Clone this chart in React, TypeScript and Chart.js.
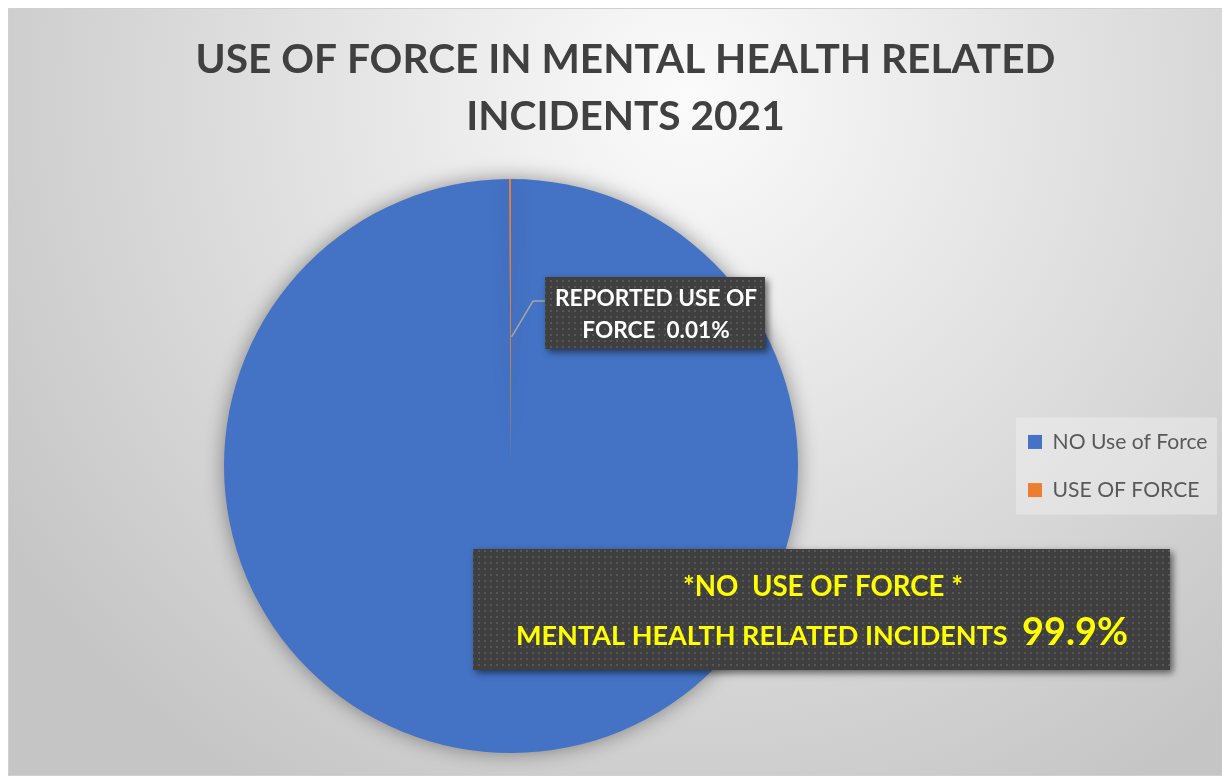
import React, { useEffect, useRef } from 'react';
import { Chart, registerables } from 'chart.js';

Chart.register(...registerables);

// ---- data ----
const TITLE_LINES = ['USE OF FORCE IN MENTAL HEALTH RELATED', 'INCIDENTS 2021'];
const CATEGORIES = ['NO Use of Force', 'USE OF FORCE'];
const VALUES = [99.9, 0.1];
const COLORS = ['#4472C4', '#ED7D31'];
const SMALL_LABEL = ['REPORTED USE OF', 'FORCE  0.01%'];
const BIG_LABEL_1 = '*NO  USE OF FORCE *';
const BIG_LABEL_2 = 'MENTAL HEALTH RELATED INCIDENTS';
const BIG_LABEL_PCT = '99.9%';

const FAMILY = 'Lato, "Open Sans", sans-serif';
const W = 1222;
const H = 768;

function fitSize(text: string, weight: string, width: number): number {
  const c = document.createElement('canvas');
  const ctx = c.getContext('2d')!;
  ctx.font = `${weight} 100px ${FAMILY}`;
  const w = ctx.measureText(text).width;
  return (100 * width) / w;
}

function makePattern(ctx: CanvasRenderingContext2D): CanvasPattern | string {
  const p = document.createElement('canvas');
  p.width = 6;
  p.height = 6;
  const pc = p.getContext('2d')!;
  pc.fillStyle = '#3f3f3f';
  pc.fillRect(0, 0, 6, 6);
  pc.fillStyle = '#565656';
  pc.fillRect(2, 2, 2, 2);
  return ctx.createPattern(p, 'repeat') || '#404040';
}

export default function App() {
  const ref = useRef<HTMLCanvasElement | null>(null);

  useEffect(() => {
    const canvas = ref.current;
    if (!canvas) return;

    const titleSize = fitSize(TITLE_LINES[0], 'bold', 860);
    const legendSize = fitSize(CATEGORIES[0], 'normal', 155);
    const smallSize = fitSize(SMALL_LABEL[0], 'bold', 202);
    const big1Size = fitSize(BIG_LABEL_1, 'bold', 280);
    const big2Size = fitSize(BIG_LABEL_2, 'bold', 492);
    const pctSize = fitSize(BIG_LABEL_PCT, 'bold', 106);

    const background = {
      id: 'background',
      beforeDraw(chart: any) {
        const ctx: CanvasRenderingContext2D = chart.ctx;
        ctx.save();
        const g = ctx.createRadialGradient(680, 90, 0, 680, 90, 820);
        g.addColorStop(0, '#fbfbfb');
        g.addColorStop(1, '#c5c5c5');
        ctx.fillStyle = g;
        ctx.fillRect(0, 0, chart.width, chart.height);
        ctx.strokeStyle = '#d0d0d0';
        ctx.lineWidth = 1;
        ctx.strokeRect(0.5, 0.5, chart.width - 1, chart.height - 1);
        // legend panel
        const lg: any = chart.legend;
        if (lg && lg.legendHitBoxes && lg.legendHitBoxes.length) {
          const hb = lg.legendHitBoxes;
          const x0 = hb[0].left - 12;
          const y0 = hb[0].top - 14;
          const last = hb[hb.length - 1];
          const y1 = last.top + last.height + 14;
          ctx.fillStyle = 'rgba(245,245,245,0.4)';
          ctx.fillRect(x0, y0, 201, y1 - y0);
        }
        ctx.restore();
      },
    };

    const legendFit = {
      id: 'legendFit',
      beforeUpdate(chart: any) {
        const lg: any = chart.legend;
        if (lg && !lg._patchedFit) {
          const orig = lg.fit;
          lg.fit = function (this: any) {
            orig.call(this);
            this.width = 229;
          };
          lg._patchedFit = true;
        }
      },
    };

    const pieShadow = {
      id: 'pieShadow',
      beforeDatasetsDraw(chart: any) {
        const ctx = chart.ctx;
        ctx.save();
        ctx.shadowColor = 'rgba(0,0,0,0.4)';
        ctx.shadowBlur = 20;
        ctx.shadowOffsetX = 0;
        ctx.shadowOffsetY = 0;
      },
      afterDatasetsDraw(chart: any) {
        chart.ctx.restore();
      },
    };

    const labels = {
      id: 'labels',
      afterDraw(chart: any) {
        const ctx: CanvasRenderingContext2D = chart.ctx;
        const meta = chart.getDatasetMeta(0);
        const arc: any = meta.data[1];
        const pat = makePattern(ctx);

        // leader line to the small slice
        if (arc) {
          const mid = (arc.startAngle + arc.endAngle) / 2;
          const r = arc.outerRadius * 0.45;
          const px = arc.x + Math.cos(mid) * r;
          const py = arc.y + Math.sin(mid) * r;
          ctx.save();
          ctx.strokeStyle = '#a5a5a5';
          ctx.lineWidth = 1.5;
          ctx.beginPath();
          ctx.moveTo(537, 293);
          ctx.lineTo(525, 293);
          ctx.lineTo(px + 1, py);
          ctx.stroke();
          ctx.restore();
        }

        const box = (x: number, y: number, w: number, h: number) => {
          ctx.save();
          ctx.shadowColor = 'rgba(0,0,0,0.55)';
          ctx.shadowBlur = 7;
          ctx.shadowOffsetX = 3;
          ctx.shadowOffsetY = 3;
          ctx.fillStyle = pat as any;
          ctx.fillRect(x, y, w, h);
          ctx.restore();
        };

        // small label
        box(537, 269, 220, 72);
        ctx.save();
        ctx.fillStyle = '#ffffff';
        ctx.textAlign = 'center';
        ctx.textBaseline = 'alphabetic';
        ctx.font = `bold ${smallSize}px ${FAMILY}`;
        ctx.fillText(SMALL_LABEL[0], 648, 298);
        ctx.fillText(SMALL_LABEL[1], 648, 330);
        ctx.restore();

        // big label
        box(465, 541, 697, 121);
        ctx.save();
        ctx.fillStyle = '#ffff00';
        ctx.textBaseline = 'alphabetic';
        ctx.textAlign = 'center';
        ctx.font = `bold ${big1Size}px ${FAMILY}`;
        ctx.fillText(BIG_LABEL_1, 815, 588);
        ctx.textAlign = 'left';
        ctx.font = `bold ${big2Size}px ${FAMILY}`;
        ctx.fillText(BIG_LABEL_2, 508, 637);
        ctx.font = `bold ${pctSize}px ${FAMILY}`;
        ctx.fillText(BIG_LABEL_PCT, 1014, 637);
        ctx.restore();
      },
    };

    const chart = new Chart(canvas, {
      type: 'pie',
      data: {
        labels: CATEGORIES,
        datasets: [
          {
            data: VALUES,
            backgroundColor: COLORS,
            borderWidth: 0,
          },
        ],
      },
      options: {
        animation: false,
        responsive: false,
        maintainAspectRatio: false,
        layout: { padding: { left: 13, right: 0, top: 0, bottom: 23 } },
        plugins: {
          title: {
            display: true,
            text: TITLE_LINES,
            color: '#404040',
            font: { family: FAMILY, size: titleSize, weight: 'bold', lineHeight: 57 / titleSize },
            padding: { top: 23, bottom: 34 },
          },
          legend: {
            display: true,
            position: 'right',
            fullSize: false,
            labels: {
              boxWidth: 14,
              boxHeight: 14,
              padding: 27,
              color: '#595959',
              font: { family: FAMILY, size: legendSize },
            },
          },
          tooltip: { enabled: false },
        },
      },
      plugins: [background, legendFit, pieShadow, labels],
    } as any);

    return () => chart.destroy();
  }, []);

  return (
    <div style={{ width: W, height: H }}>
      <canvas ref={ref} width={W} height={H} style={{ display: 'block', width: W, height: H }} />
    </div>
  );
}
